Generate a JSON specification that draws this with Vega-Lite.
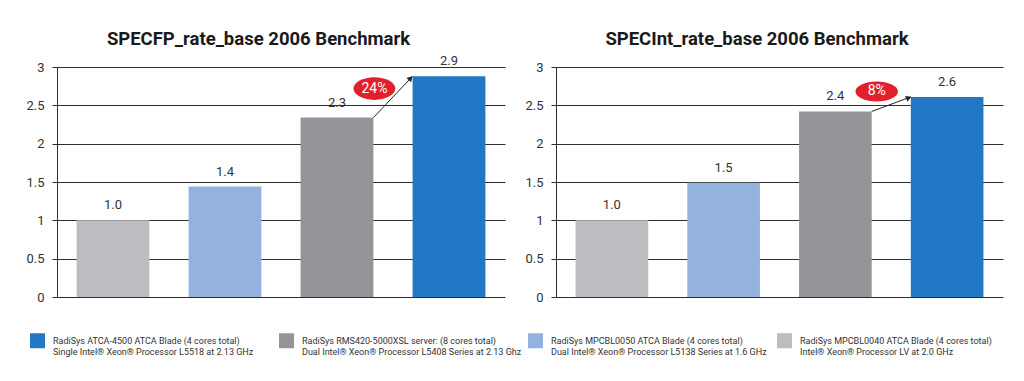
{
  "$schema": "https://vega.github.io/schema/vega-lite/v6.json",
  "background": "white",
  "padding": {"left": 25, "top": 29, "right": 10, "bottom": 5},
  "datasets": {
    "bars": [
      {"bench": "fp", "system": "RadiSys MPCBL0040 ATCA Blade (4 cores total)|Intel® Xeon® Processor LV at 2.0 GHz", "value": 1.0},
      {"bench": "fp", "system": "RadiSys MPCBL0050 ATCA Blade (4 cores total)|Dual Intel® Xeon® Processor L5138 Series at 1.6 GHz", "value": 1.44},
      {"bench": "fp", "system": "RadiSys RMS420-5000XSL server: (8 cores total)|Dual Intel® Xeon® Processor L5408 Series at 2.13 Ghz", "value": 2.34},
      {"bench": "fp", "system": "RadiSys ATCA-4500 ATCA Blade (4 cores total)|Single Intel® Xeon® Processor L5518 at 2.13 GHz", "value": 2.88},
      {"bench": "int", "system": "RadiSys MPCBL0040 ATCA Blade (4 cores total)|Intel® Xeon® Processor LV at 2.0 GHz", "value": 1.0},
      {"bench": "int", "system": "RadiSys MPCBL0050 ATCA Blade (4 cores total)|Dual Intel® Xeon® Processor L5138 Series at 1.6 GHz", "value": 1.49},
      {"bench": "int", "system": "RadiSys RMS420-5000XSL server: (8 cores total)|Dual Intel® Xeon® Processor L5408 Series at 2.13 Ghz", "value": 2.42},
      {"bench": "int", "system": "RadiSys ATCA-4500 ATCA Blade (4 cores total)|Single Intel® Xeon® Processor L5518 at 2.13 GHz", "value": 2.61}
    ],
    "notes": [
      {"bench": "fp", "from": "RadiSys RMS420-5000XSL server: (8 cores total)|Dual Intel® Xeon® Processor L5408 Series at 2.13 Ghz", "to": "RadiSys ATCA-4500 ATCA Blade (4 cores total)|Single Intel® Xeon® Processor L5518 at 2.13 GHz", "y1": 2.34, "y2": 2.88, "label": "24%"},
      {"bench": "int", "from": "RadiSys RMS420-5000XSL server: (8 cores total)|Dual Intel® Xeon® Processor L5408 Series at 2.13 Ghz", "to": "RadiSys ATCA-4500 ATCA Blade (4 cores total)|Single Intel® Xeon® Processor L5518 at 2.13 GHz", "y1": 2.42, "y2": 2.61, "label": "8%"}
    ]
  },
  "config": {
    "view": {"stroke": null},
    "font": "Roboto",
    "title": {"font": "Roboto", "fontSize": 18.5, "fontWeight": "bold", "color": "#1a1a1a", "anchor": "middle", "frame": "bounds", "offset": 7, "dx": -7},
    "axisY": {"grid": true, "gridColor": "#2e2e2e", "gridWidth": 1, "domain": true, "domainColor": "#2e2e2e", "tickColor": "#2e2e2e", "tickSize": 5, "labelFont": "Roboto", "labelFontSize": 13, "labelColor": "#333", "labelPadding": 8, "title": null, "values": [0, 0.5, 1, 1.5, 2, 2.5, 3], "format": "~g"}
  },
  "spacing": 19,
  "hconcat": [
    {
      "width": 448,
      "height": 230,
      "title": {"text": "SPECFP_rate_base 2006 Benchmark"},
      "layer": [
        {
          "data": {"name": "bars"},
          "transform": [{"filter": "datum.bench === 'fp'"}],
          "mark": {"type": "bar"},
          "encoding": {
            "x": {"field": "system", "type": "nominal", "axis": null, "sort": null, "scale": {"domain": ["RadiSys MPCBL0040 ATCA Blade (4 cores total)|Intel® Xeon® Processor LV at 2.0 GHz", "RadiSys MPCBL0050 ATCA Blade (4 cores total)|Dual Intel® Xeon® Processor L5138 Series at 1.6 GHz", "RadiSys RMS420-5000XSL server: (8 cores total)|Dual Intel® Xeon® Processor L5408 Series at 2.13 Ghz", "RadiSys ATCA-4500 ATCA Blade (4 cores total)|Single Intel® Xeon® Processor L5518 at 2.13 GHz"], "paddingInner": 0.35, "paddingOuter": 0.175}},
            "y": {"field": "value", "type": "quantitative", "scale": {"domain": [0, 3]}},
            "color": {
              "field": "system", "type": "nominal",
              "scale": {"domain": ["RadiSys ATCA-4500 ATCA Blade (4 cores total)|Single Intel® Xeon® Processor L5518 at 2.13 GHz", "RadiSys RMS420-5000XSL server: (8 cores total)|Dual Intel® Xeon® Processor L5408 Series at 2.13 Ghz", "RadiSys MPCBL0050 ATCA Blade (4 cores total)|Dual Intel® Xeon® Processor L5138 Series at 1.6 GHz", "RadiSys MPCBL0040 ATCA Blade (4 cores total)|Intel® Xeon® Processor LV at 2.0 GHz"], "range": ["#2178c4", "#939598", "#94b2de", "#bcbdc0"]},
              "legend": {"orient": "none", "legendX": -27, "legendY": 266, "direction": "horizontal", "columns": 4, "gridAlign": "all", "title": null, "symbolType": "square", "symbolSize": 225, "symbolStrokeWidth": 0, "symbolOpacity": 1, "labelFont": "Roboto", "labelFontSize": 9, "labelColor": "#333", "labelExpr": "split(datum.label, '|')", "labelBaseline": "middle", "labelOffset": 8, "columnPadding": 6, "labelLimit": 400}
            }
          }
        },
        {
          "data": {"name": "bars"},
          "transform": [{"filter": "datum.bench === 'fp'"}],
          "mark": {"type": "text", "baseline": "bottom", "dy": -8, "fontSize": 13, "color": "#333", "font": "Roboto"},
          "encoding": {
            "x": {"field": "system", "type": "nominal", "sort": null},
            "y": {"field": "value", "type": "quantitative"},
            "text": {"field": "value", "type": "quantitative", "format": ".1f"}
          }
        },
        {
          "data": {"name": "notes"},
          "transform": [{"filter": "datum.bench === 'fp'"}],
          "mark": {"type": "rule", "color": "#222", "strokeWidth": 1},
          "encoding": {
            "x": {"field": "from", "type": "nominal", "sort": null, "bandPosition": 1},
            "x2": {"field": "to", "bandPosition": 0},
            "y": {"field": "y1", "type": "quantitative"},
            "y2": {"field": "y2"}
          }
        },
        {
          "data": {"name": "notes"},
          "transform": [{"filter": "datum.bench === 'fp'"}],
          "mark": {"type": "point", "shape": "triangle-right", "filled": true, "color": "#222", "opacity": 1, "size": 40, "angle": 312, "xOffset": -2, "yOffset": 2},
          "encoding": {
            "x": {"field": "to", "type": "nominal", "sort": null, "bandPosition": 0},
            "y": {"field": "y2", "type": "quantitative"}
          }
        },
        {
          "data": {"name": "notes"},
          "transform": [{"filter": "datum.bench === 'fp'"}],
          "mark": {"type": "point", "shape": "M-1,0A1,0.54,0,1,1,1,0A1,0.54,0,1,1,-1,0Z", "filled": true, "color": "#e0202a", "opacity": 1, "size": 1750, "yOffset": -29, "xOffset": 1},
          "encoding": {
            "x": {"field": "from", "type": "nominal", "sort": null, "bandPosition": 1},
            "y": {"field": "y1", "type": "quantitative"}
          }
        },
        {
          "data": {"name": "notes"},
          "transform": [{"filter": "datum.bench === 'fp'"}],
          "mark": {"type": "text", "color": "white", "fontSize": 14, "font": "Roboto", "baseline": "middle", "align": "center", "dy": -29, "dx": 1},
          "encoding": {
            "x": {"field": "from", "type": "nominal", "sort": null, "bandPosition": 1},
            "y": {"field": "y1", "type": "quantitative"},
            "text": {"field": "label"}
          }
        }
      ]
    },
    {
      "width": 447,
      "height": 230,
      "title": {"text": "SPECInt_rate_base 2006 Benchmark", "dy": -6},
      "layer": [
        {
          "data": {"name": "bars"},
          "transform": [{"filter": "datum.bench === 'int'"}],
          "mark": {"type": "bar"},
          "encoding": {
            "x": {"field": "system", "type": "nominal", "axis": null, "sort": null, "scale": {"domain": ["RadiSys MPCBL0040 ATCA Blade (4 cores total)|Intel® Xeon® Processor LV at 2.0 GHz", "RadiSys MPCBL0050 ATCA Blade (4 cores total)|Dual Intel® Xeon® Processor L5138 Series at 1.6 GHz", "RadiSys RMS420-5000XSL server: (8 cores total)|Dual Intel® Xeon® Processor L5408 Series at 2.13 Ghz", "RadiSys ATCA-4500 ATCA Blade (4 cores total)|Single Intel® Xeon® Processor L5518 at 2.13 GHz"], "paddingInner": 0.35, "paddingOuter": 0.175}},
            "y": {"field": "value", "type": "quantitative", "scale": {"domain": [0, 3]}},
            "color": {"field": "system", "type": "nominal"}
          }
        },
        {
          "data": {"name": "bars"},
          "transform": [{"filter": "datum.bench === 'int'"}],
          "mark": {"type": "text", "baseline": "bottom", "dy": -8, "fontSize": 13, "color": "#333", "font": "Roboto"},
          "encoding": {
            "x": {"field": "system", "type": "nominal", "sort": null},
            "y": {"field": "value", "type": "quantitative"},
            "text": {"field": "value", "type": "quantitative", "format": ".1f"}
          }
        },
        {
          "data": {"name": "notes"},
          "transform": [{"filter": "datum.bench === 'int'"}],
          "mark": {"type": "rule", "color": "#222", "strokeWidth": 1},
          "encoding": {
            "x": {"field": "from", "type": "nominal", "sort": null, "bandPosition": 1},
            "x2": {"field": "to", "bandPosition": 0},
            "y": {"field": "y1", "type": "quantitative"},
            "y2": {"field": "y2"}
          }
        },
        {
          "data": {"name": "notes"},
          "transform": [{"filter": "datum.bench === 'int'"}],
          "mark": {"type": "point", "shape": "triangle-right", "filled": true, "color": "#222", "opacity": 1, "size": 40, "angle": 338, "xOffset": -2, "yOffset": 1},
          "encoding": {
            "x": {"field": "to", "type": "nominal", "sort": null, "bandPosition": 0},
            "y": {"field": "y2", "type": "quantitative"}
          }
        },
        {
          "data": {"name": "notes"},
          "transform": [{"filter": "datum.bench === 'int'"}],
          "mark": {"type": "point", "shape": "M-1,0A1,0.47,0,1,1,1,0A1,0.47,0,1,1,-1,0Z", "filled": true, "color": "#e0202a", "opacity": 1, "size": 1800, "yOffset": -20, "xOffset": 5},
          "encoding": {
            "x": {"field": "from", "type": "nominal", "sort": null, "bandPosition": 1},
            "y": {"field": "y1", "type": "quantitative"}
          }
        },
        {
          "data": {"name": "notes"},
          "transform": [{"filter": "datum.bench === 'int'"}],
          "mark": {"type": "text", "color": "white", "fontSize": 14, "font": "Roboto", "baseline": "middle", "align": "center", "dy": -20, "dx": 5},
          "encoding": {
            "x": {"field": "from", "type": "nominal", "sort": null, "bandPosition": 1},
            "y": {"field": "y1", "type": "quantitative"},
            "text": {"field": "label"}
          }
        }
      ]
    }
  ]
}
